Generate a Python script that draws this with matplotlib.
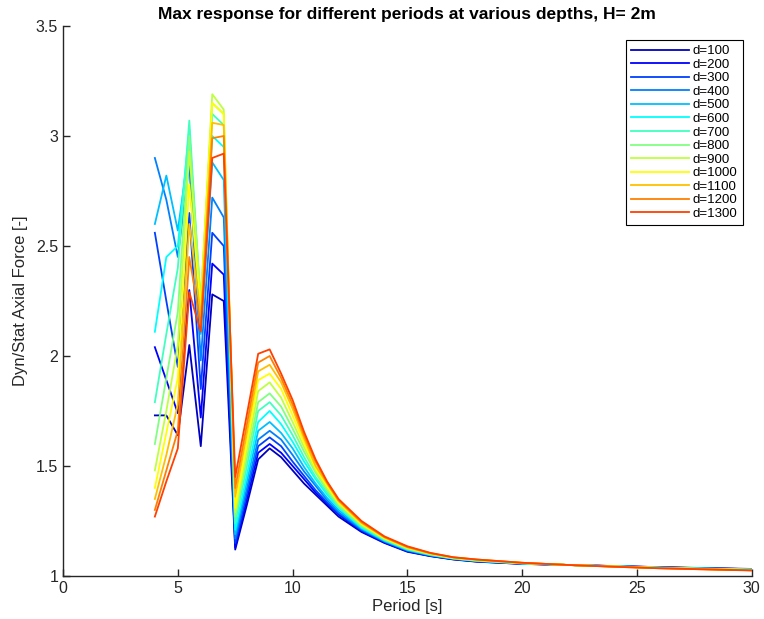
import numpy as np
import matplotlib
matplotlib.use("Agg")
import matplotlib.pyplot as plt

# Periods [s]
period = [4, 4.5, 5, 5.5, 6, 6.5, 7, 7.5, 8, 8.5, 9, 9.5, 10, 10.5,
          11, 11.5, 12, 13, 14, 15, 16, 17, 18, 20, 22, 24, 26, 28, 30]

depths = [100, 200, 300, 400, 500, 600, 700, 800, 900, 1000, 1100, 1200, 1300]

# Dyn/Stat axial force ratio, one list per depth
d100 = [1.73, 1.73, 1.64, 2.05, 1.59, 2.28, 2.25, 1.12, 1.32, 1.53, 1.58, 1.54, 1.48, 1.42,
        1.37, 1.32, 1.27, 1.200, 1.150, 1.110, 1.090, 1.075, 1.065, 1.055, 1.050, 1.045, 1.040, 1.036, 1.032]
d200 = [2.04, 1.89, 1.74, 2.30, 1.72, 2.42, 2.37, 1.13, 1.345, 1.56, 1.60, 1.56, 1.50, 1.44,
        1.38, 1.33, 1.28, 1.204, 1.152, 1.112, 1.091, 1.076, 1.066, 1.055, 1.050, 1.045, 1.040, 1.035, 1.031]
d300 = [2.56, 2.25, 1.95, 2.65, 1.85, 2.56, 2.50, 1.15, 1.37, 1.59, 1.63, 1.59, 1.52, 1.455,
        1.39, 1.335, 1.285, 1.208, 1.155, 1.114, 1.092, 1.077, 1.067, 1.056, 1.050, 1.045, 1.039, 1.035, 1.031]
d400 = [2.90, 2.71, 2.45, 2.87, 1.98, 2.72, 2.63, 1.17, 1.395, 1.62, 1.66, 1.62, 1.55, 1.475,
        1.41, 1.345, 1.29, 1.212, 1.157, 1.116, 1.094, 1.078, 1.068, 1.056, 1.050, 1.044, 1.039, 1.034, 1.030]
d500 = [2.60, 2.82, 2.57, 2.95, 2.10, 2.88, 2.80, 1.19, 1.425, 1.66, 1.70, 1.65, 1.58, 1.495,
        1.42, 1.355, 1.30, 1.216, 1.160, 1.118, 1.095, 1.079, 1.069, 1.057, 1.050, 1.044, 1.038, 1.034, 1.030]
d600 = [2.11, 2.45, 2.50, 3.03, 2.18, 3.00, 2.95, 1.21, 1.455, 1.70, 1.75, 1.69, 1.61, 1.52,
        1.44, 1.37, 1.31, 1.220, 1.162, 1.120, 1.096, 1.080, 1.070, 1.057, 1.050, 1.044, 1.038, 1.033, 1.029]
d700 = [1.79, 2.10, 2.40, 3.07, 2.22, 3.10, 3.05, 1.24, 1.495, 1.75, 1.79, 1.73, 1.64, 1.54,
        1.45, 1.38, 1.315, 1.225, 1.165, 1.122, 1.098, 1.080, 1.070, 1.058, 1.050, 1.044, 1.037, 1.033, 1.029]
d800 = [1.60, 1.90, 2.20, 3.00, 2.25, 3.15, 3.10, 1.27, 1.53, 1.79, 1.83, 1.77, 1.67, 1.565,
        1.47, 1.39, 1.32, 1.229, 1.167, 1.124, 1.099, 1.081, 1.071, 1.058, 1.050, 1.043, 1.037, 1.032, 1.028]
d900 = [1.48, 1.75, 2.05, 2.93, 2.25, 3.19, 3.12, 1.29, 1.565, 1.84, 1.88, 1.81, 1.70, 1.585,
        1.48, 1.40, 1.33, 1.233, 1.170, 1.126, 1.100, 1.082, 1.072, 1.059, 1.050, 1.043, 1.037, 1.032, 1.027]
d1000 = [1.40, 1.65, 1.90, 2.78, 2.22, 3.15, 3.10, 1.31, 1.60, 1.89, 1.92, 1.85, 1.73, 1.605,
         1.49, 1.41, 1.335, 1.237, 1.172, 1.128, 1.101, 1.083, 1.073, 1.059, 1.050, 1.043, 1.036, 1.031, 1.027]
d1100 = [1.35, 1.55, 1.78, 2.60, 2.18, 3.06, 3.05, 1.36, 1.645, 1.93, 1.96, 1.88, 1.76, 1.625,
         1.50, 1.42, 1.34, 1.241, 1.175, 1.130, 1.102, 1.084, 1.074, 1.060, 1.050, 1.043, 1.036, 1.031, 1.026]
d1200 = [1.30, 1.48, 1.66, 2.45, 2.14, 2.99, 3.00, 1.40, 1.685, 1.97, 2.00, 1.90, 1.78, 1.64,
         1.52, 1.425, 1.345, 1.245, 1.177, 1.132, 1.104, 1.085, 1.075, 1.060, 1.050, 1.042, 1.035, 1.030, 1.026]
d1300 = [1.27, 1.43, 1.58, 2.29, 2.11, 2.90, 2.92, 1.45, 1.73, 2.01, 2.03, 1.92, 1.80, 1.655,
         1.53, 1.43, 1.35, 1.250, 1.180, 1.135, 1.105, 1.085, 1.075, 1.060, 1.050, 1.042, 1.035, 1.030, 1.025]

series = [d100, d200, d300, d400, d500, d600, d700, d800, d900, d1000, d1100, d1200, d1300]

# MATLAB jet(16), first 13 colours
colors = [(0, 0, 0.75), (0, 0, 1), (0, 0.25, 1), (0, 0.5, 1), (0, 0.75, 1),
          (0, 1, 1), (0.25, 1, 0.75), (0.5, 1, 0.5), (0.75, 1, 0.25), (1, 1, 0),
          (1, 0.75, 0), (1, 0.5, 0), (1, 0.25, 0)]

plt.rcParams["font.family"] = ["Liberation Sans", "DejaVu Sans"]

fig = plt.figure(figsize=(7.64, 6.19), dpi=100)
ax = fig.add_axes([0.0825, 0.0695, 0.9015, 0.8885])

for d, vals, c in zip(depths, series, colors):
    ax.plot(period, vals, color=c, lw=1.3, label=f"d={d}")

ax.set_xlim(0, 30)
ax.set_ylim(1, 3.5)
ax.set_xticks(np.arange(0, 31, 5))
ax.set_yticks([1, 1.5, 2, 2.5, 3, 3.5])
ax.set_yticklabels(["1", "1.5", "2", "2.5", "3", "3.5"])

ax.spines["top"].set_visible(False)
ax.spines["right"].set_visible(False)
for s in ["left", "bottom"]:
    ax.spines[s].set_color("#262626")
    ax.spines[s].set_linewidth(1.0)
ax.tick_params(direction="in", length=5, width=1, colors="#262626",
               labelsize=11.5, labelcolor="#262626")

ax.set_title("Max response for different periods at various depths, H= 2m",
             fontsize=12.5, fontweight="bold", pad=5)
ax.set_xlabel("Period [s]", fontsize=12, labelpad=2, color="#262626")
ax.set_ylabel("Dyn/Stat Axial Force [-]", fontsize=12, labelpad=6, color="#262626")

leg = ax.legend(loc="upper right", bbox_to_anchor=(0.987, 0.975), borderaxespad=0,
                fontsize=9.5, labelspacing=0.1, handlelength=4.4, handletextpad=0.3,
                borderpad=0.4, fancybox=False, framealpha=1)
leg.get_frame().set_edgecolor("black")
leg.get_frame().set_linewidth(0.8)

fig.savefig("out.png", dpi=100)
